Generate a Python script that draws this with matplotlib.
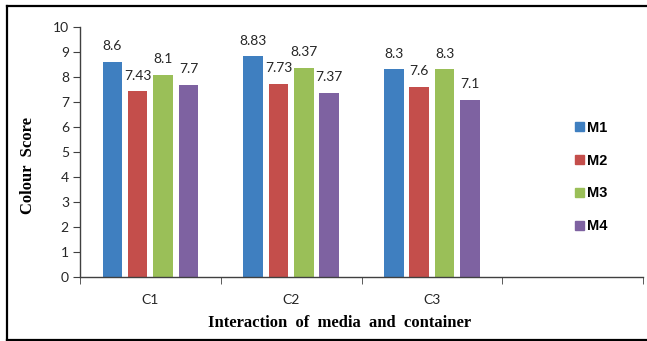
import numpy as np
import matplotlib
matplotlib.use("Agg")
import matplotlib.pyplot as plt
from matplotlib.lines import Line2D

# colour scores per container, one list per medium
containers = ["C1", "C2", "C3", ""]
media = ["M1", "M2", "M3", "M4"]
m1 = [8.6, 8.83, 8.3]
m2 = [7.43, 7.73, 7.6]
m3 = [8.1, 8.37, 8.3]
m4 = [7.7, 7.37, 7.1]
series = [m1, m2, m3, m4]
colors = ["#3F7FC0", "#C44E4B", "#9ABF58", "#7E62A1"]

W, H = 647, 341
fig = plt.figure(figsize=(W / 100, H / 100), dpi=100)
ax = fig.add_axes([80 / W, (H - 277) / H, (643 - 80) / W, (277 - 27) / H])

slot = 0.18
width = 0.139
x = np.arange(len(m1))
for k, (vals, col) in enumerate(zip(series, colors)):
    pos = x + (k - 1.5) * slot
    bars = ax.bar(pos, vals, width=width, color=col, label=media[k])
    for b, v in zip(bars, vals):
        ax.annotate(f"{v:g}", (b.get_x() + b.get_width() / 2, v),
                    xytext=(0, 7), textcoords="offset points",
                    ha="center", va="bottom", fontsize=10,
                    family="Lato", color="#262626")

ax.set_xlim(-0.5, 3.5)
ax.set_ylim(0, 10)
ax.set_yticks(range(0, 11))
ax.set_xticks(np.arange(4))
ax.set_xticklabels(containers)
ax.set_xticks(np.arange(-0.5, 4.0, 1.0), minor=True)
ax.tick_params(axis="x", which="major", length=0, pad=12)
ax.tick_params(axis="x", which="minor", length=5, direction="out", color="#404040")
ax.tick_params(axis="y", length=5, direction="out", color="#404040", pad=3)
for lab in ax.get_xticklabels() + ax.get_yticklabels():
    lab.set_family("Lato")
    lab.set_fontsize(10)
    lab.set_color("#262626")

for s in ["top", "right"]:
    ax.spines[s].set_visible(False)
for s in ["left", "bottom"]:
    ax.spines[s].set_color("#404040")
    ax.spines[s].set_linewidth(1.0)

fig.text(28 / W, 1 - 165 / H, "Colour  Score", rotation=90, ha="center", va="center",
         family="Liberation Serif", fontweight="bold", fontsize=12)
fig.text(340 / W, 1 - 323 / H, "Interaction  of  media  and  container", ha="center",
         va="center", family="Liberation Serif", fontweight="bold", fontsize=12)

handles = [plt.Rectangle((0, 0), 1, 1, color=c) for c in colors]
leg = fig.legend(handles, media, loc="center left", bbox_to_anchor=(575 / W, 1 - 177 / H),
                 frameon=False, handlelength=0.6, handleheight=0.6, handletextpad=0.2,
                 labelspacing=1.3, borderpad=0, borderaxespad=0,
                 prop={"family": "Liberation Sans", "weight": "bold", "size": 10.5})

# outer frame (top, left, bottom)
fig.add_artist(Line2D([6.5 / W, 1], [1 - 6 / H, 1 - 6 / H], color="black", lw=1.6,
                      transform=fig.transFigure))
fig.add_artist(Line2D([6.5 / W, 6.5 / W], [1 - 6 / H, 1 - 339.5 / H], color="black", lw=1.6,
                      transform=fig.transFigure))
fig.add_artist(Line2D([6.5 / W, 1], [1 - 339.5 / H, 1 - 339.5 / H], color="black", lw=1.6,
                      transform=fig.transFigure))

fig.savefig("out.png", dpi=100)
